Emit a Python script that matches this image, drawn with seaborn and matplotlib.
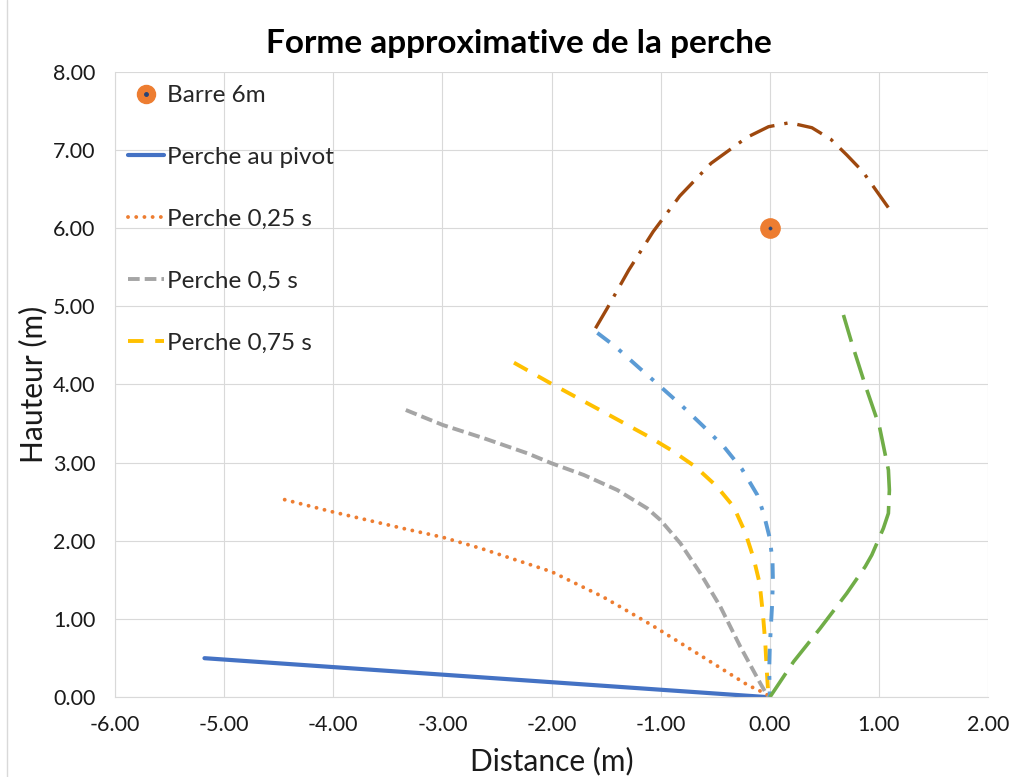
import numpy as np
import pandas as pd
import seaborn as sns
import matplotlib.pyplot as plt
from matplotlib.lines import Line2D
from matplotlib.legend_handler import HandlerTuple

# shape of the pole at each instant (distance, height in m)
pivot_x = [-5.18, 0.0]
pivot_y = [0.50, 0.0]

p025_x = [-4.445, -4.012, -3.365, -2.996, -2.640, -2.0, -1.532, -1.084, -0.642, -0.203, -0.032, 0.0]
p025_y = [2.527, 2.373, 2.161, 2.046, 1.901, 1.606, 1.287, 0.925, 0.541, 0.157, 0.042, 0.0]

p05_x = [-3.335, -2.996, -2.618, -2.221, -1.999, -1.704, -1.398, -1.124, -1.002, -0.819,
         -0.636, -0.453, -0.270, -0.087, -0.026, 0.0]
p05_y = [3.674, 3.482, 3.312, 3.120, 2.992, 2.843, 2.651, 2.417, 2.267, 1.969,
         1.586, 1.159, 0.647, 0.179, 0.03, 0.0]

p075_x = [-2.344, -2.008, -1.557, -1.109, -0.895, -0.682, -0.489, -0.331, -0.224, -0.148,
          -0.093, -0.062, -0.041, -0.026, -0.014, 0.0]
p075_y = [4.279, 4.015, 3.674, 3.333, 3.154, 2.949, 2.702, 2.437, 2.105, 1.777,
          1.458, 1.052, 0.690, 0.307, 0.051, 0.0]

p1_x = [-1.58, -1.414, -1.209, -1.008, -0.803, -0.611, -0.416, -0.254, -0.114, -0.057,
        -0.002, 0.025, 0.029, 0.02, 0.011, 0.0, -0.005, 0.0]
p1_y = [4.66, 4.484, 4.228, 3.981, 3.725, 3.469, 3.197, 2.916, 2.587, 2.353,
        2.046, 1.75, 1.487, 1.15, 0.925, 0.63, 0.358, 0.0]

trajet_x = [-1.597, -1.490, -1.292, -1.069, -0.825, -0.538, -0.209, -0.011, 0.181, 0.386,
            0.560, 0.706, 0.853, 1.087]
trajet_y = [4.719, 4.974, 5.464, 5.954, 6.410, 6.829, 7.161, 7.297, 7.348, 7.284,
            7.135, 6.935, 6.721, 6.261]

retour_x = [0.0, 0.218, 0.462, 0.706, 0.874, 0.935, 1.041, 1.087, 1.096, 1.087,
            1.005, 0.874, 0.752, 0.675]
retour_y = [0.0, 0.455, 0.882, 1.330, 1.670, 1.820, 2.161, 2.353, 2.651, 2.907,
            3.461, 3.994, 4.527, 4.889]

barre_x = [0.0]
barre_y = [6.0]

sns.set_style("whitegrid", {"grid.color": "#D9D9D9", "axes.edgecolor": "#D9D9D9"})
plt.rcParams['font.family'] = ['Lato', 'DejaVu Sans']

fig, ax = plt.subplots(figsize=(10.14, 7.77), dpi=100)
fig.subplots_adjust(left=0.1134, right=0.9744, bottom=0.1026, top=0.9077)

series = [
    (pivot_x, pivot_y, '#4472C4', 3.0, '-', 'round', 'Perche au pivot'),
    (p025_x, p025_y, '#ED7D31', 2.8, (0, (0.01, 2.1)), 'round', 'Perche 0,25 s'),
    (p05_x, p05_y, '#A5A5A5', 2.8, (0, (3, 1.3)), 'butt', 'Perche 0,5 s'),
    (p075_x, p075_y, '#FFC000', 2.8, (0, (4, 3)), 'butt', 'Perche 0,75 s'),
    (p1_x, p1_y, '#5B9BD5', 2.8, (0, (4, 3, 1, 3)), 'butt', None),
    (trajet_x, trajet_y, '#9E480E', 2.4, (0, (8, 3, 1, 3)), 'butt', None),
    (retour_x, retour_y, '#70AD47', 2.6, (0, (8, 3)), 'butt', None),
]

handles = {}
for xs, ys, col, lw, ls, cap, lab in series:
    df = pd.DataFrame({'x': xs, 'y': ys})
    sns.lineplot(data=df, x='x', y='y', ax=ax, sort=False, estimator=None,
                 color=col, lw=lw, linestyle=ls, legend=False,
                 dash_capstyle=cap, solid_capstyle='round')
    if lab:
        handles[lab] = ax.lines[-1]

# cross bar at 6 m
sns.scatterplot(x=barre_x, y=barre_y, ax=ax, s=190, color='#ED7D31', edgecolor='#ED7D31',
                zorder=5, legend=False)
sns.scatterplot(x=barre_x, y=barre_y, ax=ax, s=6, color='#264478', edgecolor='#264478',
                zorder=6, legend=False)

ax.set_xlim(-6, 2)
ax.set_ylim(0, 8)
ax.set_xticks(np.arange(-6, 2.1, 1))
ax.set_yticks(np.arange(0, 8.1, 1))
ax.xaxis.set_major_formatter(plt.FormatStrFormatter('%.2f'))
ax.yaxis.set_major_formatter(plt.FormatStrFormatter('%.2f'))
ax.tick_params(axis='both', length=0, labelsize=15.5, colors='#1a1a1a')
ax.tick_params(axis='x', pad=13)
ax.tick_params(axis='y', pad=14)
for s in ['top', 'right']:
    ax.spines[s].set_visible(False)
for s in ['left', 'bottom']:
    ax.spines[s].set_color('#D9D9D9')

ax.set_xlabel('Distance (m)', fontsize=21.5, color='#1a1a1a', labelpad=8)
ax.set_ylabel('Hauteur (m)', fontsize=21.5, color='#1a1a1a', labelpad=4)
fig.text(0.512, 0.944, 'Forme approximative de la perche', ha='center', va='center',
         fontsize=24, fontweight='bold', color='black')

barre_h = (Line2D([], [], ls='', marker='o', ms=13, color='#ED7D31'),
           Line2D([], [], ls='', marker='o', ms=2.5, color='#264478'))
leg_handles = [barre_h] + list(handles.values())
leg_labels = ['Barre 6m'] + list(handles.keys())
ax.legend(leg_handles, leg_labels, loc='upper left', bbox_to_anchor=(0.0, 1.0),
          frameon=False, fontsize=17.5, labelspacing=1.68, handlelength=1.45,
          handletextpad=0.12, borderaxespad=0.15,
          handler_map={tuple: HandlerTuple(ndivide=1)})

fig.add_artist(Line2D([0.007, 0.007], [0, 1], color='#D9D9D9', lw=1))

fig.savefig('out.png', dpi=100)
